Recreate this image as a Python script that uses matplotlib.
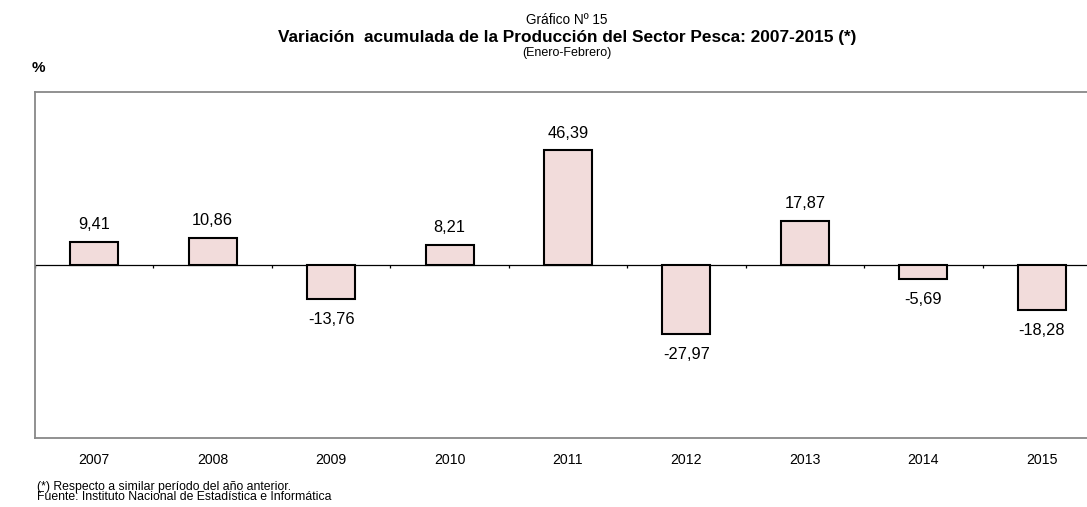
import matplotlib
matplotlib.use("Agg")
import matplotlib.pyplot as plt
import numpy as np

years = ["2007", "2008", "2009", "2010", "2011", "2012", "2013", "2014", "2015"]
values = [9.41, 10.86, -13.76, 8.21, 46.39, -27.97, 17.87, -5.69, -18.28]

plt.rcParams["font.family"] = ["Liberation Sans", "DejaVu Sans"]

W, H = 1087, 507
fig = plt.figure(figsize=(W / 100, H / 100), dpi=100)
left, right, top, bottom = 35, 1101, 92, 438
ax = fig.add_axes([left / W, 1 - bottom / H, (right - left) / W, (bottom - top) / H])

x = np.arange(len(years))
ax.bar(x, values, width=0.405, color="#F2DCDB", edgecolor="black", linewidth=1.5, zorder=3)
ax.set_xlim(-0.5, len(years) - 0.5)
ax.set_ylim(-70, 70)

for s in ax.spines.values():
    s.set_color("#888888")
    s.set_linewidth(1.3)

ax.axhline(0, color="black", linewidth=0.9, zorder=2)
bounds = np.arange(len(years) + 1) - 0.5
ax.vlines(bounds, -1.3, 0, color="black", linewidth=0.9, zorder=2)

ax.set_yticks([])
ax.set_xticks(x)
ax.set_xticklabels(years, fontsize=10.2)
ax.tick_params(axis="x", length=0, pad=10.5)

for xi, v in zip(x, values):
    lab = f"{v:.2f}".replace(".", ",")
    if v >= 0:
        ax.annotate(lab, (xi, v), xytext=(0, 7), textcoords="offset points",
                    ha="center", va="bottom", fontsize=11.8)
    else:
        ax.annotate(lab, (xi, v), xytext=(0, -9), textcoords="offset points",
                    ha="center", va="top", fontsize=11.8)

cx = 567 / W
fig.text(cx, 1 - 20 / H, "Gráfico Nº 15", ha="center", va="center", fontsize=9.8)
fig.text(cx, 1 - 38 / H, "Variación  acumulada de la Producción del Sector Pesca: 2007-2015 (*)",
         ha="center", va="center", fontsize=12.4, fontweight="bold")
fig.text(cx, 1 - 53 / H, "(Enero-Febrero)", ha="center", va="center", fontsize=9.0)
fig.text(38 / W, 1 - 68 / H, "%", ha="center", va="center", fontsize=11, fontweight="bold")

fig.text(37 / W, 1 - 492 / H,
         "(*) Respecto a similar período del año anterior.\nFuente: Instituto Nacional de Estadística e Informática",
         ha="left", va="center", fontsize=8.8, linespacing=0.85)

fig.savefig("out.png", dpi=100)
